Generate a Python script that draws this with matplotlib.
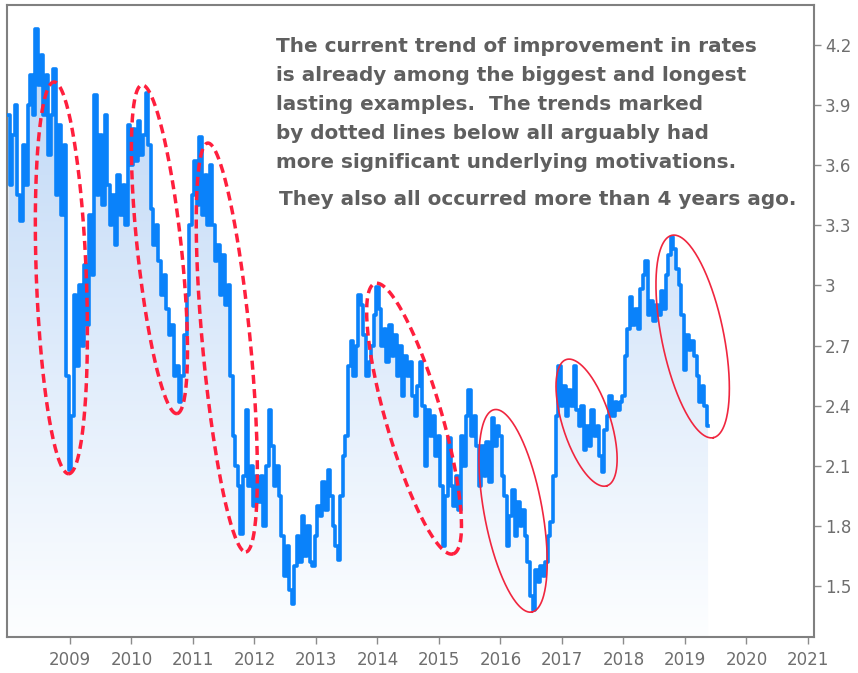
import numpy as np
import matplotlib
matplotlib.use("Agg")
import matplotlib.pyplot as plt
from matplotlib.colors import LinearSegmentedColormap
from matplotlib.patches import Polygon

# semi-monthly readings of the yield, one list per calendar year
y2008 = [3.85, 3.50, 3.75, 3.90, 3.45, 3.32, 3.70, 3.50, 3.90, 4.05, 3.85, 4.28,
         4.00, 4.15, 3.85, 4.05, 3.65, 3.85, 4.08, 3.45, 3.80, 3.35, 3.70, 2.55]
y2009 = [2.08, 2.35, 2.95, 2.60, 3.00, 2.70, 3.10, 2.80, 3.35, 3.05, 3.95, 3.45,
         3.75, 3.40, 3.85, 3.50, 3.30, 3.45, 3.20, 3.55, 3.35, 3.50, 3.30, 3.80]
y2010 = [3.60, 3.78, 3.62, 3.82, 3.65, 3.75, 3.96, 3.70, 3.38, 3.20, 3.30, 3.12,
         2.95, 3.05, 2.88, 2.75, 2.80, 2.55, 2.60, 2.42, 2.55, 2.75, 2.95, 3.30]
y2011 = [3.45, 3.62, 3.40, 3.74, 3.35, 3.55, 3.30, 3.60, 3.30, 3.12, 3.20, 2.95,
         3.15, 2.90, 3.00, 2.55, 2.25, 2.10, 2.00, 1.76, 2.05, 2.38, 2.00, 2.10]
y2012 = [1.90, 2.05, 1.92, 2.05, 1.80, 2.10, 2.38, 2.20, 2.00, 2.10, 1.95, 1.75,
         1.55, 1.70, 1.48, 1.41, 1.60, 1.75, 1.62, 1.85, 1.65, 1.80, 1.62, 1.60]
y2013 = [1.75, 1.90, 1.85, 2.02, 1.88, 2.08, 1.95, 1.80, 1.70, 1.63, 1.95, 2.15,
         2.25, 2.60, 2.72, 2.55, 2.70, 2.95, 2.90, 2.75, 2.55, 2.62, 2.70, 2.85]
y2014 = [2.99, 2.88, 2.70, 2.78, 2.62, 2.80, 2.65, 2.75, 2.55, 2.70, 2.45, 2.65,
         2.55, 2.62, 2.45, 2.35, 2.50, 2.62, 2.40, 2.10, 2.38, 2.25, 2.35, 2.15]
y2015 = [2.25, 2.00, 1.70, 1.95, 2.24, 2.00, 1.90, 2.05, 1.88, 2.25, 2.10, 2.35,
         2.48, 2.25, 2.35, 2.20, 2.00, 2.20, 2.05, 2.22, 2.02, 2.34, 2.20, 2.30]
y2016 = [2.25, 2.05, 1.95, 1.70, 1.85, 1.98, 1.75, 1.92, 1.80, 1.88, 1.75, 1.62,
         1.45, 1.38, 1.58, 1.52, 1.60, 1.55, 1.62, 1.75, 1.82, 2.05, 2.35, 2.60]
y2017 = [2.40, 2.50, 2.35, 2.48, 2.40, 2.60, 2.38, 2.30, 2.40, 2.18, 2.30, 2.20,
         2.38, 2.25, 2.30, 2.15, 2.07, 2.28, 2.35, 2.45, 2.35, 2.42, 2.38, 2.42]
y2018 = [2.45, 2.65, 2.78, 2.94, 2.80, 2.88, 2.78, 2.98, 3.05, 3.12, 2.85, 2.92,
         2.82, 2.90, 2.85, 2.97, 2.88, 3.05, 3.15, 3.24, 3.18, 3.08, 3.00, 2.85]
y2019 = [2.58, 2.75, 2.68, 2.72, 2.65, 2.55, 2.42, 2.50, 2.40, 2.30]

start_year = 2008
per_year = 24

year_ticks = list(range(2009, 2022))
rate_ticks = [1.5, 1.8, 2.1, 2.4, 2.7, 3.0, 3.3, 3.6, 3.9, 4.2]
rate_labels = ["1.5", "1.8", "2.1", "2.4", "2.7", "3", "3.3", "3.6", "3.9", "4.2"]

# trend markers: (top year, top rate, bottom year, bottom rate, half width px)
dashed_marks = [
    (2008.74, 4.015, 2008.98, 2.06, 25),
    (2010.17, 4.00, 2010.74, 2.36, 22),
    (2011.24, 3.71, 2011.86, 1.67, 24),
    (2013.96, 3.01, 2015.23, 1.66, 28),
]
solid_marks = [
    (2015.90, 2.38, 2016.51, 1.37, 29),
    (2017.07, 2.63, 2017.73, 2.00, 24),
    (2018.79, 3.25, 2019.46, 2.24, 31),
]

note_lines = [
    "The current trend of improvement in rates",
    "is already among the biggest and longest",
    "lasting examples.  The trends marked",
    "by dotted lines below all arguably had",
    "more significant underlying motivations.",
]
note_last = "They also all occurred more than 4 years ago."

rates = np.array(y2008 + y2009 + y2010 + y2011 + y2012 + y2013 + y2014
                 + y2015 + y2016 + y2017 + y2018 + y2019)
years = start_year + np.arange(len(rates)) / per_year

W, H = 858, 673
fig = plt.figure(figsize=(W / 100, H / 100), dpi=100)
ax = fig.add_axes([7 / W, 1 - 637 / H, 807 / W, 632 / H])
xlim = (2007.976, 2021.098)
ylim = (1.2455, 4.399)
ax.set_xlim(xlim)
ax.set_ylim(ylim)

# gradient fill under the line
cmap = LinearSegmentedColormap.from_list("fade", ["#fdfeff", "#bad5f6"])
grad = np.linspace(0, 1, 256).reshape(-1, 1)
im = ax.imshow(grad, extent=[xlim[0], xlim[1], ylim[0], ylim[1]], origin="lower",
               aspect="auto", cmap=cmap, zorder=1)
verts = np.vstack([np.column_stack([years, rates]),
                   [[years[-1], ylim[0]], [years[0], ylim[0]]]])
clip = Polygon(verts, closed=True, facecolor="none", edgecolor="none",
               transform=ax.transData)
ax.add_patch(clip)
im.set_clip_path(clip)

ax.plot(years, rates, color="#0a82fa", lw=2.6, zorder=3, drawstyle="steps-mid")


def ellipse(top_x, top_y, bot_x, bot_y, hw):
    p0 = ax.transData.transform((top_x, top_y))
    p1 = ax.transData.transform((bot_x, bot_y))
    c = (p0 + p1) / 2
    d = p1 - p0
    a = np.hypot(*d) / 2
    u = d / (2 * a)
    v = np.array([-u[1], u[0]])
    t = np.linspace(0, 2 * np.pi, 240)
    pts = c + a * np.cos(t)[:, None] * u + hw * np.sin(t)[:, None] * v
    return ax.transData.inverted().transform(pts)


for m in dashed_marks:
    e = ellipse(*m)
    ax.plot(e[:, 0], e[:, 1], color="#ff1f3d", lw=2.5, ls=(0, (2.6, 1.5)), zorder=4)
for m in solid_marks:
    e = ellipse(*m)
    ax.plot(e[:, 0], e[:, 1], color="#f0263f", lw=1.2, zorder=4)

ax.yaxis.tick_right()
ax.set_yticks(rate_ticks)
ax.set_yticklabels(rate_labels)
ax.set_xticks(year_ticks)
ax.set_xticklabels([str(y) for y in year_ticks])
ax.tick_params(axis="both", colors="#8c8c8c", labelcolor="#6e6e6e", labelsize=12,
               length=5, width=1, direction="out")
ax.tick_params(axis="y", pad=3)
ax.tick_params(axis="x", pad=5)
for s in ax.spines.values():
    s.set_color("#808080")
    s.set_linewidth(1.5)

for k, line in enumerate(note_lines):
    fig.text(276 / W, 1 - (51.5 + 29.2 * k) / H, line, fontsize=14.4,
             fontweight="bold", color="#5f5f5f", va="baseline", ha="left", zorder=6)
fig.text(279 / W, 1 - 205 / H, note_last, fontsize=14.4, fontweight="bold",
         color="#5f5f5f", va="baseline", ha="left", zorder=6)

fig.savefig("out.png", dpi=100)
